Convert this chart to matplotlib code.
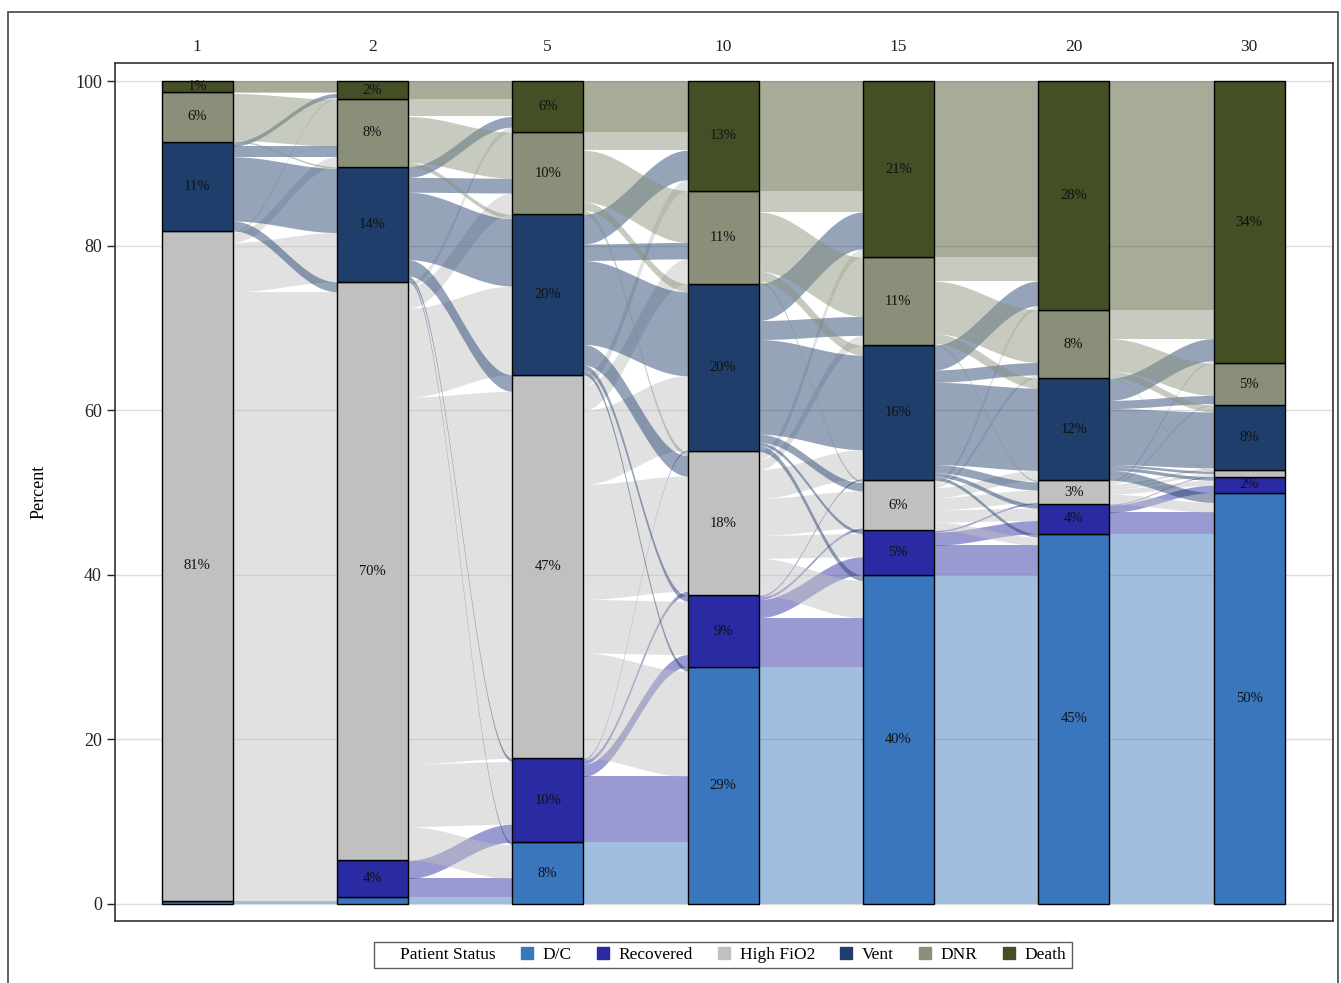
import numpy as np
import matplotlib
matplotlib.use("Agg")
import matplotlib.pyplot as plt
from matplotlib.lines import Line2D
from matplotlib.patches import Rectangle

# ---- data -------------------------------------------------------------
days = ["1", "2", "5", "10", "15", "20", "30"]
statuses = ["D/C", "Recovered", "High FiO2", "Vent", "DNR", "Death"]
bar_colors = ["#3a76bd", "#2a2aa3", "#c0c0c0", "#1f3e6c", "#898f78", "#454f26"]

# percent of patients in each status (order of `statuses`) on each day
day1 = [0.4, 0.0, 81.4, 10.8, 6.1, 1.3]
day2 = [0.9, 4.4, 70.3, 14.0, 8.2, 2.2]
day5 = [7.5, 10.2, 46.6, 19.5, 10.0, 6.2]
day10 = [28.8, 8.7, 17.5, 20.4, 11.3, 13.3]
day15 = [40.0, 5.4, 6.1, 16.4, 10.7, 21.4]
day20 = [45.0, 3.6, 2.9, 12.4, 8.3, 27.8]
day30 = [50.0, 1.9, 0.8, 7.9, 5.1, 34.3]

# transitions between consecutive days: row = status before, column = status after
flow_1_2 = [[0.4, 0, 0, 0, 0, 0],
            [0, 0, 0, 0, 0, 0],
            [0.5, 4.4, 69.1, 6.0, 1.2, 0.2],
            [0, 0, 1.2, 7.8, 1.3, 0.5],
            [0, 0, 0, 0.2, 5.7, 0.2],
            [0, 0, 0, 0, 0, 1.3]]
flow_2_5 = [[0.9, 0, 0, 0, 0, 0],
            [2.2, 2.2, 0, 0, 0, 0],
            [4.1, 7.6, 44.6, 10.8, 2.6, 0.6],
            [0.3, 0.4, 2.0, 8.2, 1.8, 1.3],
            [0, 0, 0, 0.5, 5.6, 2.1],
            [0, 0, 0, 0, 0, 2.2]]
flow_5_10 = [[7.5, 0, 0, 0, 0, 0],
             [8.0, 1.5, 0.5, 0.2, 0, 0],
             [12.8, 6.5, 14.0, 9.0, 3.0, 1.3],
             [0.5, 0.7, 2.5, 10.2, 2.0, 3.6],
             [0, 0, 0.5, 1.0, 6.3, 2.2],
             [0, 0, 0, 0, 0, 6.2]]
flow_10_15 = [[28.8, 0, 0, 0, 0, 0],
              [6.0, 2.2, 0.3, 0.2, 0, 0],
              [4.5, 2.8, 4.5, 3.5, 1.2, 1.0],
              [0.7, 0.4, 1.0, 11.5, 2.3, 4.5],
              [0, 0, 0.3, 1.2, 7.2, 2.6],
              [0, 0, 0, 0, 0, 13.3]]
flow_15_20 = [[40.0, 0, 0, 0, 0, 0],
              [3.6, 1.6, 0.2, 0, 0, 0],
              [1.0, 1.5, 1.5, 1.2, 0.4, 0.5],
              [0.4, 0.5, 1.0, 10.0, 1.5, 3.0],
              [0, 0, 0.2, 1.2, 6.4, 2.9],
              [0, 0, 0, 0, 0, 21.4]]
flow_20_30 = [[45.0, 0, 0, 0, 0, 0],
              [2.6, 0.9, 0.1, 0, 0, 0],
              [1.2, 0.6, 0.3, 0.3, 0.2, 0.3],
              [1.2, 0.4, 0.3, 6.8, 1.0, 2.7],
              [0, 0, 0.1, 0.8, 3.9, 3.5],
              [0, 0, 0, 0, 0, 27.8]]

shares = [day1, day2, day5, day10, day15, day20, day30]
flows = [flow_1_2, flow_2_5, flow_5_10, flow_10_15, flow_15_20, flow_20_30]

# ---- figure -----------------------------------------------------------
plt.rcParams["font.family"] = ["Liberation Serif", "DejaVu Serif"]

W, H = 1341, 983
fig = plt.figure(figsize=(W / 100, H / 100), dpi=100)
ax = fig.add_axes([115 / W, 1 - 921 / H, (1333 - 115) / W, (921 - 63) / H])

bar_w = 0.405
xs = np.arange(len(days))


def bottoms(vals):
    return np.concatenate([[0.0], np.cumsum(vals)[:-1]])


# ribbons between neighbouring bars
t = np.linspace(0, 1, 80)
ease = (1 - np.cos(np.pi * t)) / 2
for k, mat in enumerate(flows):
    mat = np.asarray(mat, dtype=float)
    src_base = bottoms(shares[k])
    dst_base = bottoms(shares[k + 1])
    x0 = xs[k] + bar_w / 2
    x1 = xs[k + 1] - bar_w / 2
    xx = x0 + (x1 - x0) * t
    n = len(statuses)
    src_off = np.zeros((n, n))
    dst_off = np.zeros((n, n))
    for i in range(n):
        acc = src_base[i]
        for j in range(n):
            src_off[i, j] = acc
            acc += mat[i, j]
    for j in range(n):
        acc = dst_base[j]
        for i in range(n):
            dst_off[i, j] = acc
            acc += mat[i, j]
    for i in range(n):
        for j in range(n):
            v = mat[i, j]
            if v <= 0:
                continue
            lo = src_off[i, j] + (dst_off[i, j] - src_off[i, j]) * ease
            hi = lo + v
            ax.fill_between(xx, lo, hi, color=bar_colors[i], alpha=0.47,
                            linewidth=0, zorder=1)

# stacked bars
for k, vals in enumerate(shares):
    base = bottoms(vals)
    for i, v in enumerate(vals):
        if v <= 0:
            continue
        ax.bar(xs[k], v, bottom=base[i], width=bar_w, color=bar_colors[i],
               edgecolor="black", linewidth=1.0, zorder=3)
        if v >= 1.0:
            ax.text(xs[k], base[i] + v / 2, f"{int(v + 0.5)}%", ha="center",
                    va="center", fontsize=10.5, color="#111111", zorder=4)

# axes styling
ax.set_xlim(-0.468, 6.479)
ax.set_ylim(-2.07, 102.2)
ax.set_yticks([0, 20, 40, 60, 80, 100])
ax.tick_params(axis="y", labelsize=13, length=6, width=1, colors="#222222")
ax.set_xticks(xs)
ax.set_xticklabels(days)
ax.xaxis.tick_top()
ax.tick_params(axis="x", length=0, labelsize=12.5, pad=6, colors="#222222")
ax.set_ylabel("Percent", fontsize=13, labelpad=20)
ax.yaxis.grid(True, color="#dddddd", linewidth=1)
ax.set_axisbelow(True)
for sp in ax.spines.values():
    sp.set_color("#333333")
    sp.set_linewidth(1.2)

# legend with the group title written inline
handles = [Line2D([], [], linestyle="none", marker=None)]
labels = ["Patient Status"]
for c, s in zip(bar_colors, statuses):
    handles.append(Line2D([], [], linestyle="none", marker="s", markersize=8,
                          markerfacecolor=c, markeredgecolor=c))
    labels.append(s)
leg = fig.legend(handles, labels, loc="center", bbox_to_anchor=(0.539, 0.0285),
                 ncol=7, frameon=True, fancybox=False, fontsize=12.5,
                 handlelength=0.6, handletextpad=0.6, columnspacing=1.5,
                 borderpad=0.3)
leg.get_frame().set_edgecolor("#333333")
leg.get_frame().set_linewidth(1.0)

# outer frame around the graphic
fig.patches.append(Rectangle((8 / W, -0.01), (1338 - 8) / W, 1 - 12 / H + 0.01,
                             transform=fig.transFigure, fill=False,
                             edgecolor="#444444", linewidth=1.2))

fig.savefig("out.png", dpi=100)
